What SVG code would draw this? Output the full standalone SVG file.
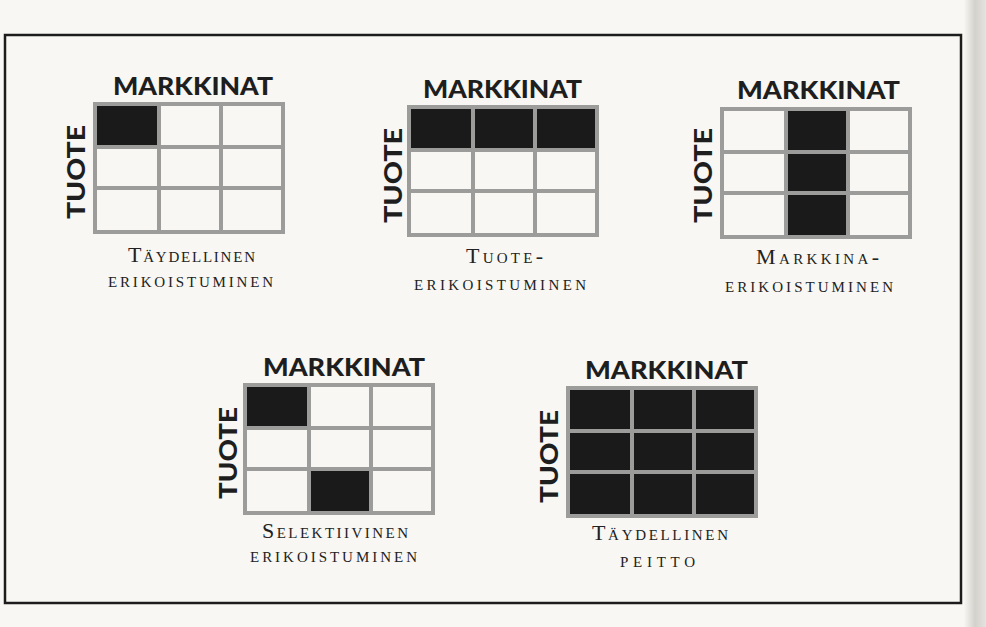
<svg xmlns="http://www.w3.org/2000/svg" xmlns:xlink="http://www.w3.org/1999/xlink" width="986" height="627" viewBox="0 0 986 627">
<style>
.title{font-family:Lato,"Open Sans","Liberation Sans",sans-serif;font-weight:900;font-size:25px;fill:#1e1e1e}
.cap{font-family:"Liberation Serif","DejaVu Serif",serif;font-size:22px;font-variant:small-caps;fill:#222}
.gl{stroke:#9c9c9a;stroke-width:4;fill:none}
.blk{fill:#1a1a1a}
</style>
<defs>
<linearGradient id="edge" x1="0" y1="0" x2="1" y2="0">
<stop offset="0" stop-color="#f7f6f2"/>
<stop offset="0.5" stop-color="#d2d1cc"/>
<stop offset="1" stop-color="#e4e3df"/>
</linearGradient>
<g id="grid">
<rect class="gl" x="0" y="0" width="188" height="128"/>
<line class="gl" x1="64" y1="0" x2="64" y2="128"/>
<line class="gl" x1="126" y1="0" x2="126" y2="128"/>
<line class="gl" x1="0" y1="43" x2="188" y2="43"/>
<line class="gl" x1="0" y1="84" x2="188" y2="84"/>
</g>
</defs>
<rect x="0" y="0" width="986" height="627" fill="#f8f7f3"/>
<rect x="964" y="0" width="22" height="627" fill="url(#edge)"/>
<rect x="5" y="35" width="956" height="568" fill="none" stroke="#1c1c1c" stroke-width="2.5"/>

<g id="n1" transform="translate(95,104)">
<rect class="blk" x="2" y="2" width="60" height="39"/>
<use xlink:href="#grid"/>
</g>
<g id="n1-text">
<text class="title" x="113" y="95" textLength="160" lengthAdjust="spacingAndGlyphs">MARKKINAT</text>
<text class="title" transform="translate(85,219) rotate(-90)" textLength="94" lengthAdjust="spacingAndGlyphs">TUOTE</text>
<text class="cap" x="128" y="262" textLength="127" lengthAdjust="spacing">Täydellinen</text>
<text class="cap" x="108" y="287" textLength="165" lengthAdjust="spacing">erikoistuminen</text>
</g>

<g id="n2" transform="translate(409,107)">
<rect class="blk" x="2" y="2" width="60" height="39"/>
<rect class="blk" x="66" y="2" width="58" height="39"/>
<rect class="blk" x="128" y="2" width="58" height="39"/>
<use xlink:href="#grid"/>
</g>
<g id="n2-text">
<text class="title" x="423" y="98" textLength="159" lengthAdjust="spacingAndGlyphs">MARKKINAT</text>
<text class="title" transform="translate(402,223) rotate(-90)" textLength="95" lengthAdjust="spacingAndGlyphs">TUOTE</text>
<text class="cap" x="466" y="263" textLength="77" lengthAdjust="spacing">Tuote-</text>
<text class="cap" x="414" y="290" textLength="172" lengthAdjust="spacing">erikoistuminen</text>
</g>

<g id="n3" transform="translate(722,109)">
<rect class="blk" x="66" y="2" width="58" height="39"/>
<rect class="blk" x="66" y="45" width="58" height="37"/>
<rect class="blk" x="66" y="86" width="58" height="40"/>
<use xlink:href="#grid"/>
</g>
<g id="n3-text">
<text class="title" x="737" y="99" textLength="163" lengthAdjust="spacingAndGlyphs">MARKKINAT</text>
<text class="title" transform="translate(712,223) rotate(-90)" textLength="95" lengthAdjust="spacingAndGlyphs">TUOTE</text>
<text class="cap" x="756" y="264" textLength="123" lengthAdjust="spacing">Markkina-</text>
<text class="cap" x="725" y="292" textLength="168" lengthAdjust="spacing">erikoistuminen</text>
</g>

<g id="n4" transform="translate(245,385)">
<rect class="blk" x="2" y="2" width="60" height="39"/>
<rect class="blk" x="66" y="86" width="58" height="40"/>
<use xlink:href="#grid"/>
</g>
<g id="n4-text">
<text class="title" x="263" y="376" textLength="162" lengthAdjust="spacingAndGlyphs">MARKKINAT</text>
<text class="title" transform="translate(237,499) rotate(-90)" textLength="92" lengthAdjust="spacingAndGlyphs">TUOTE</text>
<text class="cap" x="262" y="538" textLength="146" lengthAdjust="spacing">Selektiivinen</text>
<text class="cap" x="250" y="562" textLength="167" lengthAdjust="spacing">erikoistuminen</text>
</g>

<g id="n5" transform="translate(568,388)">
<rect class="blk" x="2" y="2" width="60" height="39"/>
<rect class="blk" x="66" y="2" width="58" height="39"/>
<rect class="blk" x="128" y="2" width="58" height="39"/>
<rect class="blk" x="2" y="45" width="60" height="37"/>
<rect class="blk" x="66" y="45" width="58" height="37"/>
<rect class="blk" x="128" y="45" width="58" height="37"/>
<rect class="blk" x="2" y="86" width="60" height="40"/>
<rect class="blk" x="66" y="86" width="58" height="40"/>
<rect class="blk" x="128" y="86" width="58" height="40"/>
<use xlink:href="#grid"/>
</g>
<g id="n5-text">
<text class="title" x="585" y="379" textLength="163" lengthAdjust="spacingAndGlyphs">MARKKINAT</text>
<text class="title" transform="translate(558,503) rotate(-90)" textLength="93" lengthAdjust="spacingAndGlyphs">TUOTE</text>
<text class="cap" x="592" y="540" textLength="136" lengthAdjust="spacing">Täydellinen</text>
<text class="cap" x="620" y="567" textLength="75" lengthAdjust="spacing">peitto</text>
</g>

<g id="connectors"/>
</svg>
